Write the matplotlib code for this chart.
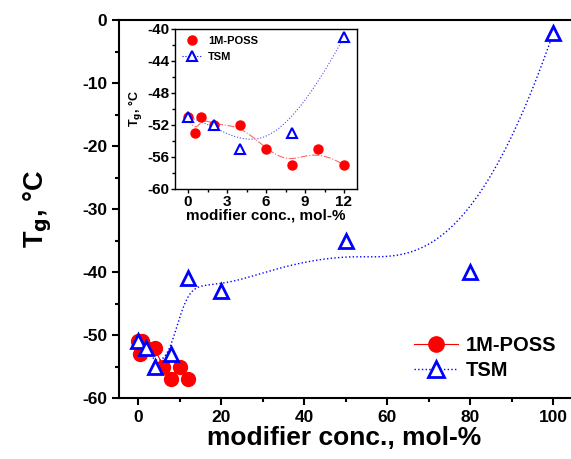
import numpy as np
import matplotlib
matplotlib.use('Agg')
import matplotlib.pyplot as plt
from matplotlib.ticker import MultipleLocator

# data
poss_x = [0, 0.5, 1, 2, 4, 6, 8, 10, 12]
poss_y = [-51, -53, -51, -52, -52, -55, -57, -55, -57]
tsm_x = [0, 2, 4, 8, 12, 20, 50, 80, 100]
tsm_y = [-51, -52, -55, -53, -41, -43, -35, -40, -2]
tsm_small_x = [0, 2, 4, 8, 12]
tsm_small_y = [-51, -52, -55, -53, -41]


def bspline(px, py, n=300, k=3):
    # clamped B-spline with the data as control points (Origin "B-Spline" connect)
    px = np.asarray(px, float)
    py = np.asarray(py, float)
    m = len(px)
    k = min(k, m - 1)
    t = np.concatenate([np.zeros(k), np.linspace(0, 1, m - k + 1), np.ones(k)])
    u = np.linspace(0, 1, n)
    u[-1] -= 1e-9

    def basis(i, p):
        if p == 0:
            return ((t[i] <= u) & (u < t[i + 1])).astype(float)
        a = (u - t[i]) / (t[i + p] - t[i]) if t[i + p] != t[i] else 0.0
        b = (t[i + p + 1] - u) / (t[i + p + 1] - t[i + 1]) if t[i + p + 1] != t[i + 1] else 0.0
        return a * basis(i, p - 1) + b * basis(i + 1, p - 1)

    B = np.array([basis(i, k) for i in range(m)])
    return px @ B, py @ B


plt.rcParams['font.family'] = ['Liberation Sans', 'DejaVu Sans']
plt.rcParams['font.weight'] = 'bold'
plt.rcParams['axes.unicode_minus'] = False

red = '#ff0000'
blue = '#0000ff'

fig = plt.figure(figsize=(5.71, 4.59), dpi=100)
ax = fig.add_axes([119 / 571, 1 - 398 / 459, 451 / 571, 378 / 459])

# main plot
cx, cy = bspline(tsm_x, tsm_y)
ax.plot(cx, cy, ':', color=blue, lw=1)
rx, ry = bspline(poss_x, poss_y)
ax.plot(rx, ry, '-', color=red, lw=0.8)
ax.plot(poss_x, poss_y, 'o', color=red, ms=10, mec=red)
ax.plot(tsm_x, tsm_y, '^', mfc='white', mec=blue, mew=2, ms=10)
ax.plot([], [], '-o', color=red, ms=11, lw=0.8, label='1M-POSS')
ax.plot([], [], ':^', color=blue, mfc='white', mec=blue, mew=2, ms=11, lw=1, label='TSM')

ax.set_xlim(-4.6, 104)
ax.set_ylim(-60, 0)
ax.xaxis.set_major_locator(MultipleLocator(20))
ax.xaxis.set_minor_locator(MultipleLocator(10))
ax.yaxis.set_major_locator(MultipleLocator(10))
ax.yaxis.set_minor_locator(MultipleLocator(5))
ax.tick_params(which='major', direction='out', length=5, width=1.5, labelsize=12.5)
ax.tick_params(which='minor', direction='out', length=3, width=1.5)
for s in ax.spines.values():
    s.set_linewidth(1.5)
ax.spines['right'].set_visible(False)
ax.set_xlabel('modifier conc., mol-%', fontsize=19, fontweight='bold', labelpad=1)
ax.set_ylabel('T$_\\mathbf{g}$, °C', fontsize=19.5, fontweight='bold', labelpad=20)
ax.legend(loc='lower right', bbox_to_anchor=(1.01, 0.0), frameon=False, fontsize=14.5,
          handlelength=2.2, handletextpad=0.4, labelspacing=0.3)

# inset
ins = fig.add_axes([175 / 571, 1 - 189 / 459, 182 / 571, 160 / 459])
sx, sy = bspline(tsm_small_x, tsm_small_y)
ins.plot(sx, sy, ':', color=blue, lw=0.8, alpha=0.7)
ins.plot(rx, ry, '-.', color=red, lw=0.8, alpha=0.6)
ins.plot(poss_x, poss_y, 'o', color=red, ms=6.5, mec=red, label='1M-POSS')
ins.plot(tsm_small_x, tsm_small_y, '^', mfc='white', mec=blue, mew=1.5, ms=7)
ins.plot([], [], ':^', color=blue, mfc='white', mec=blue, mew=1.5, ms=7, lw=0.8, label='TSM')
ins.set_xlim(-1, 13)
ins.set_ylim(-60, -40)
ins.xaxis.set_major_locator(MultipleLocator(3))
ins.xaxis.set_minor_locator(MultipleLocator(1.5))
ins.yaxis.set_major_locator(MultipleLocator(4))
ins.yaxis.set_minor_locator(MultipleLocator(2))
ins.tick_params(which='major', direction='out', length=3, width=1, labelsize=11, pad=1)
ins.tick_params(which='minor', direction='out', length=2, width=1)
for s in ins.spines.values():
    s.set_linewidth(1)
ins.set_xlabel('modifier conc., mol-%', fontsize=11, fontweight='bold', labelpad=0)
ins.set_ylabel('T$_\\mathbf{g}$, °C', fontsize=9, fontweight='bold', labelpad=2)
ins.legend(loc='upper left', frameon=False, fontsize=8, handlelength=1.8,
           handletextpad=0.6, labelspacing=0.55, borderaxespad=0.2)

fig.savefig('out.png', dpi=100)
